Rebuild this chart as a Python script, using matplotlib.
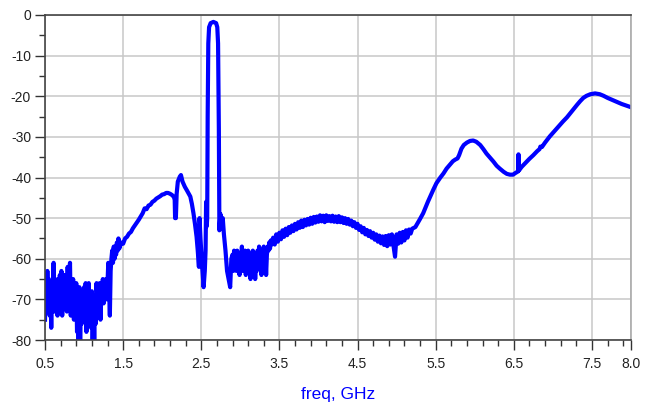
import numpy as np
import matplotlib
matplotlib.use('Agg')
import matplotlib.pyplot as plt
from matplotlib.ticker import MultipleLocator, FixedLocator

plt.rcParams['font.family'] = ['Liberation Sans', 'DejaVu Sans']

# noisy low band, 0.50 - 1.44 GHz every 10 MHz
low_freq = np.round(np.arange(0.50, 1.445, 0.01), 3)
low_db = [-75, -64, -73, -63, -70, -65, -74, -67, -77, -66,
          -72, -61, -73, -65, -71, -67, -74, -65, -72, -64,
          -71, -63, -74, -66, -70, -64, -72, -66, -73, -62,
          -71, -65, -61, -74, -67, -72, -65, -75, -68, -71,
          -66, -78, -69, -80, -67, -80, -70, -76, -68, -74,
          -67, -72, -66, -78, -69, -75, -66, -74, -70, -77,
          -68, -80, -70, -80, -69, -76, -66, -73, -68, -71,
          -66, -75, -67, -70, -65, -71, -66, -69, -65, -70,
          -66, -61, -67, -74, -63, -60, -58, -61, -57, -60,
          -57, -59, -56, -58, -55]

# rising skirt below the passband
skirt_freq = [1.45, 1.475, 1.50, 1.525, 1.55, 1.575, 1.60, 1.625, 1.65, 1.675,
              1.70, 1.725, 1.75, 1.775, 1.80, 1.825, 1.85, 1.875, 1.90, 1.925,
              1.95, 1.975, 2.00, 2.025, 2.05, 2.075, 2.10, 2.125, 2.15]
skirt_db = [-57.5, -56, -56.3, -55, -54.6, -53.8, -53.4, -52.5, -51.8, -51.1,
            -50.4, -49.6, -48.8, -47.6, -47.8, -46.9, -46.7, -46.0, -45.7, -45.2,
            -44.9, -44.6, -44.2, -44.1, -43.8, -43.8, -44.0, -44.3, -44.8]

# passband region
band_freq = [2.16, 2.165, 2.175, 2.185, 2.20, 2.225, 2.24, 2.26, 2.29, 2.32,
             2.36, 2.38, 2.40, 2.42, 2.44, 2.455, 2.47, 2.478, 2.49, 2.505,
             2.52, 2.53, 2.545, 2.555, 2.562, 2.57, 2.576, 2.582, 2.59, 2.60,
             2.62, 2.655, 2.69, 2.705, 2.715, 2.725, 2.732, 2.745, 2.76, 2.775,
             2.79, 2.81, 2.83, 2.85, 2.87, 2.885]
band_db = [-45.5, -50, -50, -44, -41, -39.8, -39.4, -41, -42.3, -43.3,
           -44.7, -46.5, -48.8, -51.5, -54.6, -58, -62, -50, -55, -60,
           -64, -67, -63, -58, -46, -52, -50, -25, -7, -3,
           -2, -1.7, -2, -3, -7, -28, -53, -49, -51, -50,
           -54, -58, -63, -65, -67, -60]

# noisy stopband 2.90 - 3.40 GHz
stop1_freq = np.round(np.arange(2.90, 3.405, 0.01), 3)
stop1_db = [-59, -63, -58, -62, -59, -63, -58, -61, -59, -64,
            -60, -62, -57, -63, -59, -61, -58, -64, -60, -62,
            -58, -61, -59, -65, -60, -63, -58, -62, -59, -65,
            -61, -63, -58, -62, -57, -61, -58, -64, -59, -62,
            -57, -60, -58, -64, -59, -57, -58, -56, -57.5, -55.5,
            -56.5]

# stopband 3.42 - 5.20 GHz
stop2_freq = np.round(np.arange(3.42, 5.205, 0.02), 3)
stop2_db = [-54.8, -56.5, -54.0, -55.8, -53.6, -55.2, -53.0, -54.6, -52.6, -54.2,
            -52.2, -53.6, -51.8, -53.2, -51.4, -52.8, -51.0, -52.4, -50.6, -52.2,
            -50.4, -51.8, -50.2, -51.6, -49.9, -51.4, -49.7, -51.1, -49.6, -50.9,
            -49.3, -50.8, -49.4, -51.0, -49.3, -50.7, -49.5, -50.8, -49.4, -50.9,
            -49.6, -51.0, -49.5, -51.0, -49.8, -51.2, -50.0, -51.4, -50.2, -51.6,
            -50.6, -52.0, -51.0, -52.4, -51.4, -52.9, -52.0, -53.5, -52.4, -54.0,
            -52.9, -54.4, -53.2, -54.8, -53.6, -55.3, -54.0, -55.8, -54.3, -56.2,
            -54.5, -56.6, -54.4, -56.9, -54.2, -56.5, -54.0, -56.8, -59.5, -54.0,
            -56.3, -53.6, -56.0, -53.4, -55.5, -53.0, -54.8, -52.8, -53.8, -52.6]

# upper harmonic region
high_freq = [5.24, 5.30, 5.34, 5.40, 5.43, 5.47, 5.51, 5.56, 5.60, 5.64,
             5.68, 5.72, 5.75, 5.78, 5.80, 5.83, 5.86, 5.90, 5.94, 5.98,
             6.02, 6.07, 6.11, 6.15, 6.20, 6.24, 6.28, 6.32, 6.37, 6.41,
             6.45, 6.49, 6.52, 6.555, 6.56, 6.565, 6.60, 6.65, 6.70, 6.75,
             6.80, 6.83, 6.84, 6.86, 6.90, 6.96, 7.02, 7.08, 7.13, 7.18,
             7.23, 7.27, 7.31, 7.35, 7.39, 7.43, 7.48, 7.54, 7.60, 7.65,
             7.70, 7.76, 7.82, 7.88, 7.94, 8.00]
high_db = [-52.2, -50.2, -48.8, -46.0, -44.7, -43.0, -41.4, -40.0, -39.0, -37.8,
           -36.9, -36.0, -35.6, -35.3, -34.5, -32.9, -32.0, -31.4, -31.0, -30.9,
           -31.2, -32.0, -33.0, -34.1, -35.2, -36.1, -37.1, -37.8, -38.6, -39.1,
           -39.3, -39.3, -38.9, -38.5, -34.3, -38.3, -37.4, -36.4, -35.4, -34.5,
           -33.5, -33.0, -32.4, -32.5, -31.4, -29.9, -28.6, -27.3, -26.2, -25.2,
           -24.0, -23.0, -22.1, -21.2, -20.4, -19.9, -19.5, -19.3, -19.5, -19.9,
           -20.4, -20.9, -21.4, -21.9, -22.3, -22.7]

freq = np.concatenate([low_freq, skirt_freq, band_freq, stop1_freq, stop2_freq, high_freq])
db = np.concatenate([low_db, skirt_db, band_db, stop1_db, stop2_db, high_db])

xticks = [0.5, 1.5, 2.5, 3.5, 4.5, 5.5, 6.5, 7.5, 8.0]
xtick_labels = ['0.5', '1.5', '2.5', '3.5', '4.5', '5.5', '6.5', '7.5', '8.0']

fig = plt.figure(figsize=(6.58, 4.05), dpi=100)
ax = fig.add_axes([45 / 658, 1 - 340 / 405, 586 / 658, 325 / 405])

ax.plot(freq, db, color='#0000ff', lw=3.0, solid_joinstyle='round', clip_on=True)

ax.set_xlim(0.5, 8.0)
ax.set_ylim(-80, 0)
ax.xaxis.set_major_locator(FixedLocator(xticks))
ax.set_xticklabels(xtick_labels)
ax.xaxis.set_minor_locator(FixedLocator(np.round(np.arange(0.7, 8.0, 0.2), 2)))
ax.yaxis.set_major_locator(MultipleLocator(10))
ax.yaxis.set_minor_locator(MultipleLocator(5))
ax.set_yticklabels([str(int(v)) for v in ax.get_yticks()])

ax.grid(True, which='major', color='#c8c8c8', lw=1.1)
ax.set_axisbelow(True)
ax.tick_params(which='major', length=7, width=1.0, color='#333333', labelsize=10, pad=3,
               labelcolor='#222222')
ax.tick_params(which='minor', length=4, width=1.0, color='#333333')
ax.tick_params(axis='x', which='major', pad=5)

for side in ['left', 'bottom', 'top']:
    ax.spines[side].set_color('#444444')
    ax.spines[side].set_linewidth(1.2)
ax.spines['right'].set_color('#aaaaaa')
ax.spines['right'].set_linewidth(1.2)

ax.set_xlabel('freq, GHz', color='#0000ff', fontsize=12.5, labelpad=12)

fig.savefig('out.png', dpi=100)
